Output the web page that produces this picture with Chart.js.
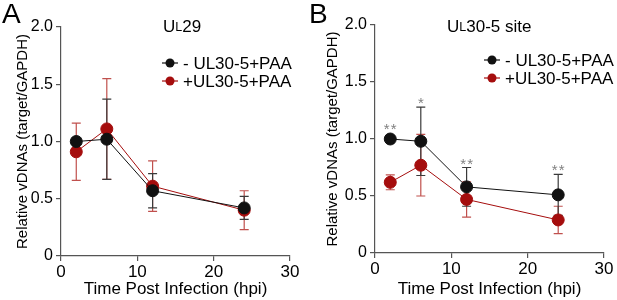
<!DOCTYPE html>
<html>
<head>
<meta charset="utf-8">
<script src="https://cdn.jsdelivr.net/npm/chart.js@4.4.1/dist/chart.umd.min.js"></script>
<style>
html,body{margin:0;padding:0;background:#fff;}
#wrap{position:relative;width:617px;height:300px;overflow:hidden;}
.pane{position:absolute;top:0;height:300px;}
</style>
</head>
<body>
<div id="wrap">
  <div class="pane" style="left:0;width:308px;"><canvas id="cA" width="308" height="300"></canvas></div>
  <div class="pane" style="left:308px;width:309px;"><canvas id="cB" width="309" height="300"></canvas></div>
</div>
<script>
// ---- data ----
const hpi = [2, 6, 12, 24];
const xTicks = [0, 10, 20, 30];
const yTicks = [0, 0.5, 1.0, 1.5, 2.0];
const yTickLabels = ['0', '0.5', '1.0', '1.5', '2.0'];
const seriesNames = ['- UL30-5+PAA', '+UL30-5+PAA'];

// Panel A: UL29
const ul29Minus    = [1.00, 1.02, 0.57, 0.42];
const ul29MinusErr = [0.00, 0.35, 0.15, 0.10];
const ul29Plus     = [0.91, 1.11, 0.61, 0.40];
const ul29PlusErr  = [0.25, 0.44, 0.22, 0.17];

// Panel B: UL30-5 site
const ul305Minus    = [1.00, 0.98, 0.58, 0.51];
const ul305MinusErr = [0.00, 0.30, 0.17, 0.18];
const ul305Plus     = [0.62, 0.77, 0.47, 0.29];
const ul305PlusErr  = [0.065, 0.27, 0.155, 0.12];
const ul305Stars    = ['**', '*', '**', '**'];

// ---- style ----
const BLACK = '#111111';
const RED = '#a50d0d';
const RED_ERR = '#c0504d';
const BLACK_ERR = '#3a3a3a';
const AXIS = '#555555';
const FONT = 'Liberation Sans, Arial, sans-serif';

function pts(ys) { return hpi.map((x, i) => ({x: x, y: ys[i]})); }

function makeChart(id, cfg) {
  const plugin = {
    id: 'extras' + id,
    beforeDatasetsDraw(chart) {
      const ctx = chart.ctx, xs = chart.scales.x, ys = chart.scales.y;
      const sets = [[cfg.plus, cfg.plusErr, RED_ERR], [cfg.minus, cfg.minusErr, BLACK_ERR]];
      ctx.save();
      sets.forEach(([vals, errs, col]) => {
        ctx.strokeStyle = col;
        ctx.lineWidth = 1.2;
        hpi.forEach((x, i) => {
          if (!errs[i]) return;
          const px = xs.getPixelForValue(x);
          const hi = ys.getPixelForValue(vals[i] + errs[i]);
          const lo = ys.getPixelForValue(vals[i] - errs[i]);
          ctx.beginPath();
          ctx.moveTo(px, hi); ctx.lineTo(px, lo);
          ctx.moveTo(px - 4.5, hi); ctx.lineTo(px + 4.5, hi);
          ctx.moveTo(px - 4.5, lo); ctx.lineTo(px + 4.5, lo);
          ctx.stroke();
        });
      });
      ctx.restore();
    },
    afterDraw(chart) {
      const ctx = chart.ctx, xs = chart.scales.x, ys = chart.scales.y;
      ctx.save();
      ctx.fillStyle = '#000';
      ctx.font = '28px ' + FONT;
      ctx.textBaseline = 'top';
      ctx.textAlign = 'left';
      ctx.fillText(cfg.letter, cfg.letterX, 1);
      ctx.textBaseline = 'middle';
      let tx = cfg.titleX;
      const ty = 27;
      ctx.font = '17px ' + FONT;
      ctx.fillText('U', tx, ty); tx += ctx.measureText('U').width;
      ctx.font = '12.5px ' + FONT;
      ctx.fillText('L', tx, ty + 1); tx += ctx.measureText('L').width;
      ctx.font = '17px ' + FONT;
      ctx.fillText(cfg.titleRest, tx, ty);
      const cols = [BLACK, RED];
      seriesNames.forEach((name, i) => {
        const ly = cfg.legendY + i * 18;
        const mx = cfg.legendX;
        ctx.strokeStyle = cols[i];
        ctx.lineWidth = 1.2;
        ctx.beginPath(); ctx.moveTo(mx - 8, ly); ctx.lineTo(mx + 8, ly); ctx.stroke();
        ctx.fillStyle = cols[i];
        ctx.beginPath(); ctx.arc(mx, ly, 4.5, 0, Math.PI * 2); ctx.fill();
        ctx.fillStyle = '#000';
        ctx.font = '17px ' + FONT;
        ctx.textAlign = 'left';
        ctx.fillText(name, mx + 13, ly + 1);
      });
      if (cfg.stars) {
        ctx.fillStyle = '#808080';
        ctx.font = '15px ' + FONT;
        ctx.textAlign = 'center';
        ctx.textBaseline = 'alphabetic';
        hpi.forEach((x, i) => {
          const top = Math.max(cfg.minus[i] + cfg.minusErr[i], cfg.minus[i] + 0.05);
          const px = xs.getPixelForValue(x);
          const py = ys.getPixelForValue(top) + 1;
          const chars = cfg.stars[i].split('');
          const step = 7;
          const start = px - (chars.length - 1) * step / 2;
          chars.forEach((c, k) => ctx.fillText(c, start + k * step, py));
        });
      }
      ctx.restore();
    }
  };

  return new Chart(document.getElementById(id), {
    type: 'line',
    data: {
      datasets: [
        {label: seriesNames[0], data: pts(cfg.minus), borderColor: BLACK, backgroundColor: BLACK,
         pointBackgroundColor: BLACK, pointBorderColor: BLACK, borderWidth: 1, pointRadius: 6, pointHoverRadius: 6},
        {label: seriesNames[1], data: pts(cfg.plus), borderColor: RED, backgroundColor: RED,
         pointBackgroundColor: RED, pointBorderColor: RED, borderWidth: 1, pointRadius: 6, pointHoverRadius: 6}
      ]
    },
    options: {
      responsive: false,
      animation: false,
      events: [],
      layout: {padding: {top: cfg.top, right: cfg.right, left: 0, bottom: 0}},
      plugins: {legend: {display: false}, tooltip: {enabled: false}, title: {display: false}},
      scales: {
        x: {
          type: 'linear', min: 0, max: 30,
          afterBuildTicks: s => { s.ticks = xTicks.map(v => ({value: v})); },
          afterFit: s => { s.height = cfg.xH; },
          grid: {display: true, drawOnChartArea: false, drawTicks: true, tickLength: 5, color: AXIS, lineWidth: 1.2},
          border: {display: true, color: AXIS, width: 1.2},
          ticks: {color: '#000', font: {family: FONT, size: 17}, padding: 1},
          title: {display: true, text: 'Time Post Infection (hpi)', color: '#000', font: {family: FONT, size: 17}, padding: {top: 2, bottom: 0}}
        },
        y: {
          type: 'linear', min: 0, max: 2,
          afterBuildTicks: s => { s.ticks = yTicks.map(v => ({value: v})); },
          afterFit: s => { s.width = cfg.yW; },
          grid: {display: true, drawOnChartArea: false, drawTicks: true, tickLength: 5, color: AXIS, lineWidth: 1.2},
          border: {display: true, color: AXIS, width: 1.2},
          ticks: {color: '#000', font: {family: FONT, size: 16}, padding: cfg.yPad,
                  callback: (v) => { const k = yTicks.indexOf(v); return k >= 0 ? yTickLabels[k] : ''; }},
          title: {display: true, text: 'Relative vDNAs (target/GAPDH)', color: '#000', font: {family: FONT, size: 15}, padding: {top: cfg.yTitlePad, bottom: 0}}
        }
      }
    },
    plugins: [plugin]
  });
}

makeChart('cA', {
  minus: ul29Minus, minusErr: ul29MinusErr, plus: ul29Plus, plusErr: ul29PlusErr,
  letter: 'A', letterX: 2, titleX: 163, titleRest: '29',
  legendX: 170, legendY: 63,
  top: 27, right: 18, yW: 61, xH: 44, yPad: 3, yTitlePad: 14
});
makeChart('cB', {
  minus: ul305Minus, minusErr: ul305MinusErr, plus: ul305Plus, plusErr: ul305PlusErr, stars: ul305Stars,
  letter: 'B', letterX: 1, titleX: 139, titleRest: '30-5 site',
  legendX: 184, legendY: 60,
  top: 25, right: 13, yW: 67, xH: 47, yPad: 3, yTitlePad: 16
});
</script>
</body>
</html>
